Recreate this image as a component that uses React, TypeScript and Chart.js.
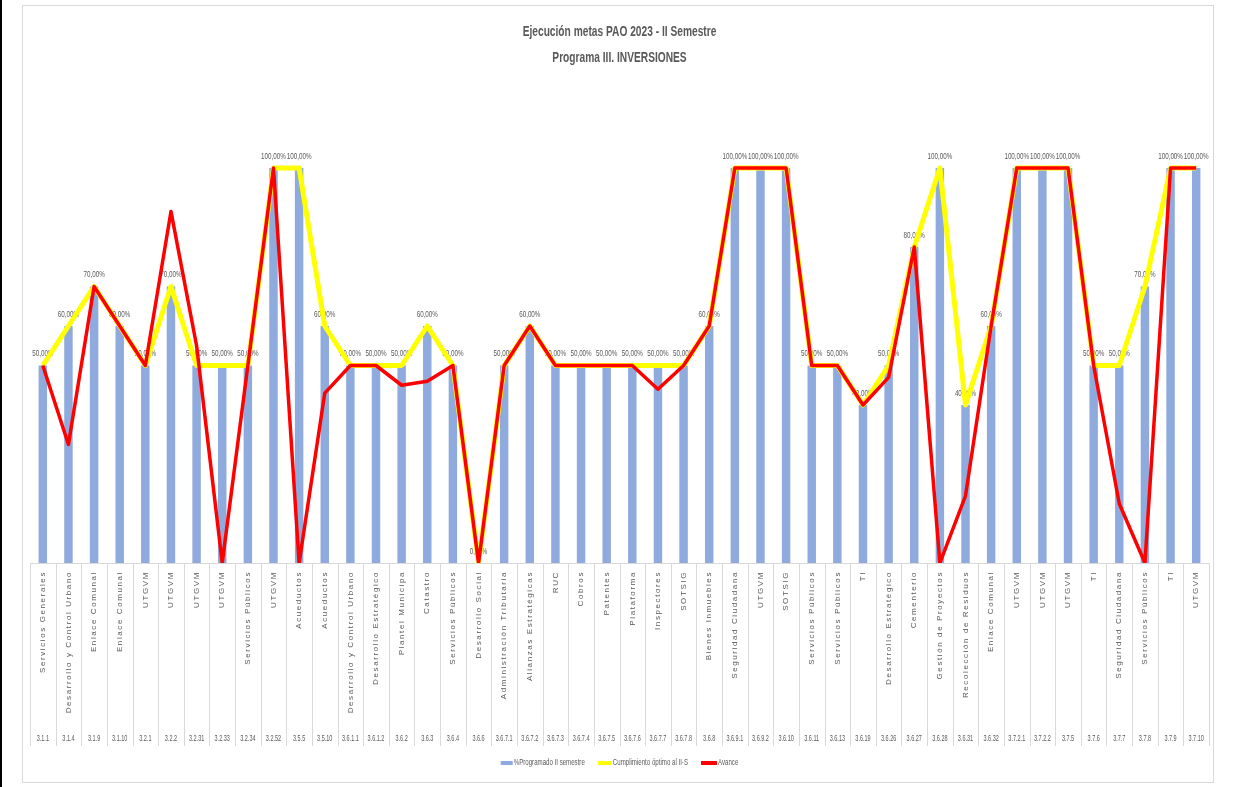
import React, { useEffect, useRef } from 'react';
import { Chart, registerables } from 'chart.js';

Chart.register(...registerables);

const codes = ['3.1.1','3.1.4','3.1.9','3.1.10','3.2.1','3.2.2','3.2.31','3.2.33','3.2.34','3.2.52','3.5.5','3.5.10','3.6.1.1','3.6.1.2','3.6.2','3.6.3','3.6.4','3.6.6','3.6.7.1','3.6.7.2','3.6.7.3','3.6.7.4','3.6.7.5','3.6.7.6','3.6.7.7','3.6.7.8','3.6.8','3.6.9.1','3.6.9.2','3.6.10','3.6.11','3.6.13','3.6.19','3.6.26','3.6.27','3.6.28','3.6.31','3.6.32','3.7.2.1','3.7.2.2','3.7.5','3.7.6','3.7.7','3.7.8','3.7.9','3.7.10'];

const areas = ['Servicios Generales','Desarrollo y Control Urbano','Enlace Comunal','Enlace Comunal','UTGVM','UTGVM','UTGVM','UTGVM','Servicios Públicos','UTGVM','Acueductos','Acueductos','Desarrollo y Control Urbano','Desarrollo Estratégico','Plantel Municipa','Catastro','Servicios Públicos','Desarrollo Social','Administración Tributaria','Alianzas Estratégicas','RUC','Cobros','Patentes','Plataforma','Inspectores','SOTSIG','Bienes Inmuebles','Seguridad Ciudadana','UTGVM','SOTSIG','Servicios Públicos','Servicios Públicos','TI','Desarrollo Estratégico','Cementerio','Gestión de Proyectos','Recolección de Residuos','Enlace Comunal','UTGVM','UTGVM','UTGVM','TI','Seguridad Ciudadana','Servicios Públicos','TI','UTGVM'];

const programado = [50,60,70,60,50,70,50,50,50,100,100,60,50,50,50,60,50,0,50,60,50,50,50,50,50,50,60,100,100,100,50,50,40,50,80,100,40,60,100,100,100,50,50,70,100,100];

const optimo = [50,60,70,60,50,70,50,50,50,100,100,60,50,50,50,60,50,0,50,60,50,50,50,50,50,50,60,100,100,100,50,50,40,50,80,100,40,60,100,100,100,50,50,70,100,100];

const avance = [50,30,70,60,50,89,55,0,50,100,0,43,50,50,45,46,50,0,50,60,50,50,50,50,44,50,60,100,100,100,50,50,40,47,80,0,17,60,100,100,100,50,15,0,100,100];

const titleLines = ['Ejecución metas PAO 2023 - II Semestre', 'Programa III. INVERSIONES'];
const seriesNames = ['%Programado II semestre', 'Cumplimiento óptimo al II-S', 'Avance'];
const seriesColors = ['#8FAADC', '#FFFF00', '#FF0000'];

const SANS = '"Liberation Sans", Arial, sans-serif';
const GRAY = '#595959';
const CONDENSE = 0.68;

const fmt = (v: number) => v.toFixed(2).replace('.', ',') + '%';

function condensedText(ctx: any, text: string, x: number, y: number, sx: number, align: string) {
  ctx.save();
  ctx.translate(x, y);
  ctx.scale(sx, 1);
  ctx.textAlign = align;
  ctx.fillText(text, 0, 0);
  ctx.restore();
}

const framePlugin = {
  id: 'frame',
  beforeDraw(chart: any) {
    const { ctx, width, height } = chart;
    ctx.save();
    ctx.fillStyle = '#ffffff';
    ctx.fillRect(0, 0, width, height);
    ctx.strokeStyle = '#d9d9d9';
    ctx.lineWidth = 1;
    ctx.strokeRect(22.5, 5.5, 1191, 777);
    ctx.strokeStyle = '#000000';
    ctx.lineWidth = 2;
    ctx.beginPath();
    ctx.moveTo(1, 0);
    ctx.lineTo(1, height);
    ctx.stroke();
    ctx.restore();
  },
  afterDraw(chart: any) {
    const { ctx } = chart;
    const x = chart.scales.x;
    const x2 = chart.scales.x2;
    const n = codes.length;
    const w = (x.right - x.left) / n;
    const cx = (x.left + x.right) / 2;
    ctx.save();
    // table lines under the plot
    ctx.strokeStyle = '#d9d9d9';
    ctx.lineWidth = 1;
    ctx.beginPath();
    for (let i = 0; i <= n; i++) {
      const px = Math.round(x.left + i * w) + 0.5;
      ctx.moveTo(px, x.top);
      ctx.lineTo(px, x2.bottom);
    }
    ctx.moveTo(x.left, Math.round(x.top) + 0.5);
    ctx.lineTo(x.right, Math.round(x.top) + 0.5);
    ctx.stroke();

    ctx.fillStyle = GRAY;
    // rotated area names
    ctx.font = '8px ' + SANS;
    ctx.textBaseline = 'middle';
    (ctx as any).letterSpacing = '1.6px';
    areas.forEach((name, i) => {
      const px = x.getPixelForTick(i);
      ctx.save();
      ctx.translate(px, x.top + 8);
      ctx.rotate(-Math.PI / 2);
      ctx.textAlign = 'right';
      ctx.fillText(name, 0, 0);
      ctx.restore();
    });
    (ctx as any).letterSpacing = '0px';

    // codes row
    ctx.font = '9.5px ' + SANS;
    ctx.textBaseline = 'middle';
    codes.forEach((c, i) => {
      const px = x2.getPixelForTick(i);
      condensedText(ctx, c, px, x2.top + 9, 0.58, 'center');
    });

    // title
    ctx.font = 'bold 15px ' + SANS;
    ctx.textBaseline = 'middle';
    condensedText(ctx, titleLines[0], cx, 32, CONDENSE, 'center');
    condensedText(ctx, titleLines[1], cx, 58, CONDENSE, 'center');

    // legend
    ctx.font = '9px ' + SANS;
    const sw = [12, 14, 16];
    const gapText = 1;
    const gapItem = 13;
    const widths = seriesNames.map((t, i) => sw[i] + gapText + ctx.measureText(t).width * CONDENSE);
    const total = widths.reduce((a, b) => a + b, 0) + gapItem * (seriesNames.length - 1);
    let lx = cx - total / 2;
    const ly = 763;
    seriesNames.forEach((t, i) => {
      ctx.fillStyle = seriesColors[i];
      ctx.fillRect(lx, ly - 2, sw[i], 4);
      ctx.fillStyle = GRAY;
      condensedText(ctx, t, lx + sw[i] + gapText, ly, CONDENSE, 'left');
      lx += widths[i] + gapItem;
    });
    ctx.restore();
  },
  afterDatasetDraw(chart: any, args: any) {
    if (args.index !== 0) return;
    const { ctx } = chart;
    const meta = chart.getDatasetMeta(0);
    ctx.save();
    ctx.fillStyle = GRAY;
    ctx.font = '9.5px ' + SANS;
    ctx.textBaseline = 'middle';
    meta.data.forEach((el: any, i: number) => {
      condensedText(ctx, fmt(programado[i]), el.x, el.y - 12, 0.66, 'center');
    });
    ctx.restore();
  },
};

export default function App() {
  const ref = useRef<HTMLCanvasElement | null>(null);

  useEffect(() => {
    document.body.style.margin = '0';
    const canvas = ref.current;
    if (!canvas) return;
    const chart = new Chart(canvas, {
      type: 'bar',
      data: {
        labels: areas,
        datasets: [
          {
            type: 'bar',
            label: seriesNames[0],
            data: programado,
            backgroundColor: seriesColors[0],
            borderWidth: 0,
            categoryPercentage: 1,
            barPercentage: 0.33,
            order: 3,
          },
          {
            type: 'line',
            label: seriesNames[1],
            data: optimo,
            borderColor: seriesColors[1],
            backgroundColor: seriesColors[1],
            borderWidth: 5,
            pointRadius: 0,
            tension: 0,
            borderJoinStyle: 'round',
            order: 2,
          },
          {
            type: 'line',
            label: seriesNames[2],
            data: avance,
            borderColor: seriesColors[2],
            backgroundColor: seriesColors[2],
            borderWidth: 3.5,
            pointRadius: 0,
            tension: 0,
            borderJoinStyle: 'round',
            order: 1,
          },
        ],
      } as any,
      options: {
        responsive: false,
        animation: false,
        devicePixelRatio: 1,
        layout: { padding: { left: 30, right: 25, top: 89, bottom: 41 } },
        plugins: {
          tooltip: { enabled: false },
          title: { display: false },
          legend: { display: false },
        },
        scales: {
          y: { display: false, min: 0, max: 120 },
          x: {
            type: 'category',
            offset: true,
            grid: { display: false },
            border: { display: false },
            ticks: { display: false, autoSkip: false },
            afterFit: (s: any) => { s.height = 166; },
          },
          x2: {
            type: 'category',
            position: 'bottom',
            labels: codes,
            offset: true,
            grid: { display: false },
            border: { display: false },
            ticks: { display: false, autoSkip: false },
            afterFit: (s: any) => { s.height = 17; },
          },
        },
      } as any,
      plugins: [framePlugin],
    });
    return () => chart.destroy();
  }, []);

  return (
    <div style={{ width: 1234, height: 787, overflow: 'hidden' }}>
      <canvas ref={ref} width={1234} height={787} style={{ display: 'block' }} />
    </div>
  );
}
